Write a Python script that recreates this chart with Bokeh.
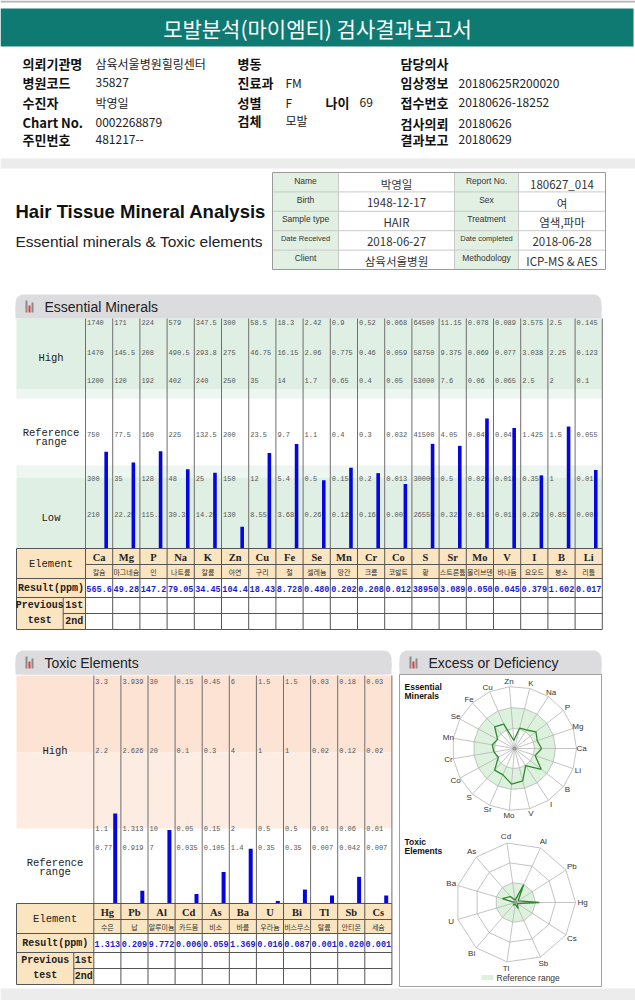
import numpy as np
from bokeh.plotting import figure
from bokeh.models import Range1d, BoxAnnotation
from bokeh.core.properties import value
from bokeh.embed import file_html
from bokeh.resources import INLINE

# ---------------- data ----------------
report_title = "모발분석(마이엠티) 검사결과보고서"
info_left_labels = ["의뢰기관명", "병원코드", "수진자", "Chart No.", "주민번호"]
info_left_values = ["삼육서울병원힐링센터", "35827", "박영일", "0002268879", "481217--"]
info_mid_labels = ["병동", "진료과", "성별", "검체"]
info_mid_values = ["", "FM", "F", "모발"]
age_label, age_value = "나이", "69"
info_right_labels = ["담당의사", "임상정보", "접수번호", "검사의뢰", "결과보고"]
info_right_values = ["", "20180625R200020", "20180626-18252", "20180626", "20180629"]

card_left_labels = ["Name", "Birth", "Sample type", "Date Received", "Client"]
card_left_values = ["박영일", "1948-12-17", "HAIR", "2018-06-27", "삼육서울병원"]
card_right_labels = ["Report No.", "Sex", "Treatment", "Date completed", "Methodology"]
card_right_values = ["180627_014", "여", "염색,파마", "2018-06-28", "ICP-MS & AES"]

ess_elements = ["Ca", "Mg", "P", "Na", "K", "Zn", "Cu", "Fe", "Se", "Mn", "Cr", "Co", "S", "Sr", "Mo", "V", "I", "B", "Li"]
ess_korean = ["칼슘", "마그네슘", "인", "나트륨", "칼륨", "아연", "구리", "철", "셀레늄", "망간", "크롬", "코발트", "황", "스트론튬", "몰리브덴", "바나듐", "요오드", "붕소", "리튬"]
ess_result = [565.6, 49.28, 147.2, 79.05, 34.45, 104.4, 18.43, 8.728, 0.480, 0.202, 0.208, 0.012, 38950, 3.089, 0.050, 0.045, 0.379, 1.602, 0.017]
ess_high3 = [1740, 171, 224, 579, 347.5, 300, 58.5, 18.3, 2.42, 0.9, 0.52, 0.068, 64500, 11.15, 0.078, 0.089, 3.575, 2.5, 0.145]
ess_high2 = [1470, 145.5, 208, 490.5, 293.8, 275, 46.75, 16.15, 2.06, 0.775, 0.46, 0.059, 58750, 9.375, 0.069, 0.077, 3.038, 2.25, 0.123]
ess_high1 = [1200, 120, 192, 402, 240, 250, 35, 14, 1.7, 0.65, 0.4, 0.05, 53000, 7.6, 0.06, 0.065, 2.5, 2, 0.1]
ess_ref_high = [750, 77.5, 160, 225, 132.5, 200, 23.5, 9.7, 1.1, 0.4, 0.3, 0.032, 41500, 4.05, 0.043, 0.041, 1.425, 1.5, 0.055]
ess_ref_low = [300, 35, 128, 48, 25, 150, 12, 5.4, 0.5, 0.15, 0.2, 0.013, 30000, 0.5, 0.025, 0.018, 0.35, 1, 0.01]
ess_low1 = [210, 22.25, 115.2, 30.3, 14.25, 130, 8.55, 3.68, 0.26, 0.125, 0.16, 0.007, 26550, 0.322, 0.018, 0.011, 0.296, 0.85, 0.008]

tox_elements = ["Hg", "Pb", "Al", "Cd", "As", "Ba", "U", "Bi", "Tl", "Sb", "Cs"]
tox_korean = ["수은", "납", "알루미늄", "카드뮴", "비소", "바륨", "우라늄", "비스무스", "탈륨", "안티몬", "세슘"]
tox_result = [1.313, 0.209, 9.772, 0.006, 0.059, 1.369, 0.016, 0.087, 0.001, 0.020, 0.001]
tox_high2 = [3.3, 3.939, 30, 0.15, 0.45, 6, 1.5, 1.5, 0.03, 0.18, 0.03]
tox_high1 = [2.2, 2.626, 20, 0.1, 0.3, 4, 1, 1, 0.02, 0.12, 0.02]
tox_ref_high = [1.1, 1.313, 10, 0.05, 0.15, 2, 0.5, 0.5, 0.01, 0.06, 0.01]
tox_ref_low = [0.77, 0.919, 7, 0.035, 0.105, 1.4, 0.35, 0.35, 0.007, 0.042, 0.007]

# ---------------- styling ----------------
KR = "Noto Sans CJK KR"
SANS = "Liberation Sans"
MONO = "Liberation Mono"
SERIF = "Liberation Serif"
TEAL = "#0e7a72"
GREEN_BAND = "#dfefe4"
GREEN_SOFT = "#edf6f0"
PEACH = "#fde3d4"
PEACH_SOFT = "#fdece2"
TAN = "#fbe5c0"
GRID = "#6f6f6f"
BAR = "#0505e0"
RESULT_BLUE = "#1c1cd0"


def fmt_tick(v):
    return f"{v:g}"


def fmt_result(v):
    if v >= 10000:
        return f"{v:.0f}"
    if v >= 1:
        return f"{v:.4g}"
    return f"{v:.3f}"


p = figure(width=635, height=1000, x_range=Range1d(0, 635), y_range=Range1d(1000, 0),
           output_backend="svg", toolbar_location=None, min_border=0,
           x_axis_type=None, y_axis_type=None)
p.grid.visible = False
p.outline_line_color = None
p.background_fill_color = "white"


def txt(xs, ys, labels, size, font=SANS, color="#222", align="left", baseline="middle", style="normal"):
    p.text(x=list(xs), y=list(ys), text=list(labels), text_font=value(font),
           text_font_size=size, text_color=color, text_align=align,
           text_baseline=baseline, text_font_style=style)


def box(l, r, t, b, fill, line=None, lw=1):
    p.quad(left=[l], right=[r], top=[t], bottom=[b], fill_color=fill,
           line_color=line, line_width=lw)


def segs(x0, y0, x1, y1, color=GRID, w=1):
    p.segment(x0=list(x0), y0=list(y0), x1=list(x1), y1=list(y1), line_color=color, line_width=w)


def tab(l, r, t, b, label):
    p.add_layout(BoxAnnotation(left=l, right=r, top=t, bottom=b, fill_color="#dcdcdf",
                               fill_alpha=1, line_color=None, border_radius=8, level="underlay"))
    box(l, r, (t + b) / 2, b, "#dcdcdf")
    cy = (t + b) / 2
    p.vbar(x=[l + 11, l + 14, l + 17], width=2, bottom=[cy + 6] * 3,
           top=[cy - 6, cy - 1, cy - 4], fill_color=["#8a8a8a", "#e23b3b", "#8a8a8a"], line_color=None)
    txt([l + 29], [cy], [label], "14px", SANS, "#222")


# ---------------- header ----------------
box(0, 635, 0, 2, "#b4b4b4")
box(0, 633, 8, 46, TEAL)
txt([317], [27.5], [report_title], "21px", KR, "white", "center")

left_y = [63, 82, 102, 122, 139]
txt([22] * 5, left_y, info_left_labels, "13px", KR, "#111", style="bold")
txt([95] * 5, left_y, info_left_values, "12px", KR, "#222")
mid_y = [63, 82, 102, 120]
txt([237] * 4, mid_y, info_mid_labels, "13px", KR, "#111", style="bold")
txt([285] * 4, mid_y, info_mid_values, "12px", KR, "#222")
txt([325], [102], [age_label], "13px", KR, "#111", style="bold")
txt([359], [102], [age_value], "12px", KR, "#222")
right_y = [63, 82, 102, 123, 139]
txt([400] * 5, right_y, info_right_labels, "13px", KR, "#111", style="bold")
txt([458] * 5, right_y, info_right_values, "12px", KR, "#222")

# ---------------- title block ----------------
box(0, 635, 158, 168, "#ececec")
txt([15], [211], ["Hair Tissue Mineral Analysis"], "18.5px", SANS, "#111", style="bold")
txt([15], [241], ["Essential minerals & Toxic elements"], "15.5px", SANS, "#222")

cx_ = [272, 338, 454, 518, 605]
ry_ = [172 + i * 19.4 for i in range(6)]
box(cx_[0], cx_[1], ry_[0], ry_[5], "#e2f0e4")
box(cx_[2], cx_[3], ry_[0], ry_[5], "#e2f0e4")
segs([cx_[0]] * 4, ry_[1:5], [cx_[4]] * 4, ry_[1:5], "#c9c9c9")
segs(cx_[1:4], [ry_[0]] * 3, cx_[1:4], [ry_[5]] * 3, "#c9c9c9")
box(cx_[0], cx_[4], ry_[0], ry_[5], None, "#9a9a9a")
lab_y = [r + 8 for r in ry_[:5]]
val_y = [r + 11 for r in ry_[:5]]
lab_sizes = ["8.5px", "8.5px", "8.5px", "7.5px", "8.5px"]
for i in range(5):
    txt([305], [lab_y[i]], [card_left_labels[i]], lab_sizes[i], SANS, "#333", "center")
    txt([486], [lab_y[i]], [card_right_labels[i]], lab_sizes[i], SANS, "#333", "center")
txt([396] * 5, val_y, card_left_values, "11.5px", KR, "#333", "center")
txt([561.5] * 5, val_y, card_right_values, "11.5px", KR, "#333", "center")

# ---------------- essential minerals ----------------
tab(15, 601, 294, 318, "Essential Minerals")
E_X0, E_W, E_L = 85.0, 27.2, 16.0
E_N = len(ess_elements)
E_R = E_X0 + E_N * E_W
box(E_L, E_R, 318, 389, GREEN_BAND)
box(E_L, E_R, 389, 398, GREEN_SOFT)
box(E_L, E_R, 465, 477, GREEN_SOFT)
box(E_L, E_R, 477, 548, GREEN_BAND)
ex = [E_X0 + i * E_W for i in range(E_N + 1)]
segs(ex, [318] * len(ex), ex, [548] * len(ex), GRID)

txt([50.5], [357], ["High"], "10.5px", MONO, "#222", "center")
txt([50.5, 50.5], [432, 441], ["Reference", "range"], "10.5px", MONO, "#222", "center")
txt([50.5], [517], ["Low"], "10.5px", MONO, "#222", "center")

tick_rows = [(322, ess_high3), (352, ess_high2), (380, ess_high1),
             (434, ess_ref_high), (478, ess_ref_low), (514, ess_low1)]
for yy, vals in tick_rows:
    txt([x + 1.5 for x in ex[:-1]], [yy] * E_N, [fmt_tick(v) for v in vals], "7px", MONO, "#555")

ess_knot_y = [548, 521, 476, 434, 395, 352, 322]
ess_top = []
for i in range(E_N):
    kv = [0, ess_low1[i], ess_ref_low[i], ess_ref_high[i], ess_high1[i], ess_high2[i], ess_high3[i]]
    ess_top.append(float(np.interp(ess_result[i], kv, ess_knot_y)))
p.vbar(x=[E_X0 + (i + 0.76) * E_W for i in range(E_N)], width=3.6,
       top=ess_top, bottom=[548] * E_N, fill_color=BAR, line_color=None)


def element_table(x_left, x0, w, n, top, split_x, symbols, korean, results):
    rows = [top, top + 16, top + 30, top + 49, top + 65, top + 81]
    xr = x0 + n * w
    box(x_left, xr, rows[0], rows[2], TAN)
    box(x_left, x0, rows[2], rows[3], TAN)
    box(x_left, x0, rows[3], rows[5], TAN)
    xs = [x0 + i * w for i in range(n + 1)]
    segs([x_left, x0, x_left, x_left, split_x, x_left],
         [rows[0], rows[1], rows[2], rows[3], rows[4], rows[5]],
         [xr] * 6,
         [rows[0], rows[1], rows[2], rows[3], rows[4], rows[5]], "#555")
    segs([x_left] + xs + [split_x], [rows[0]] * (n + 2) + [rows[3]],
         [x_left] + xs + [split_x], [rows[5]] * (n + 2) + [rows[5]], "#555")
    cxs = [x0 + (i + 0.5) * w for i in range(n)]
    txt(cxs, [rows[0] + 8.5] * n, symbols, "10.5px", SERIF, "#222", "center", style="bold")
    txt(cxs, [rows[1] + 7] * n, korean, "7px", KR, "#333", "center")
    txt(cxs, [rows[2] + 10] * n, [fmt_result(v) for v in results], "8.5px", MONO, RESULT_BLUE, "center", style="bold")
    lx = (x_left + x0) / 2
    txt([lx], [rows[0] + 15], ["Element"], "10.5px", MONO, "#222", "center")
    txt([lx], [rows[2] + 10], ["Result(ppm)"], "10px", MONO, "#222", "center", style="bold")
    px_ = (x_left + split_x) / 2
    txt([px_, px_], [rows[3] + 8, rows[4] + 7], ["Previous", "test"], "10px", MONO, "#222", "center", style="bold")
    sx = (split_x + x0) / 2
    txt([sx, sx], [rows[3] + 8, rows[4] + 8], ["1st", "2nd"], "10px", MONO, "#222", "center", style="bold")


element_table(E_L, E_X0, E_W, E_N, 548, 62.7, ess_elements, ess_korean, ess_result)

# ---------------- toxic elements ----------------
tab(15, 391, 650, 674, "Toxic Elements")
T_X0, T_W, T_L = 93.3, 27.1, 16.0
T_N = len(tox_elements)
T_R = T_X0 + T_N * T_W
box(T_L, T_R, 675, 752, PEACH)
box(T_L, T_R, 752, 828, PEACH_SOFT)
tx = [T_X0 + i * T_W for i in range(T_N + 1)]
segs(tx, [675] * len(tx), tx, [903] * len(tx), GRID)
txt([54.5], [750], ["High"], "10.5px", MONO, "#222", "center")
txt([54.5, 54.5], [862, 871], ["Reference", "range"], "10.5px", MONO, "#222", "center")
for yy, vals in [(681, tox_high2), (750, tox_high1), (828, tox_ref_high), (847, tox_ref_low)]:
    txt([x + 1.5 for x in tx[:-1]], [yy] * T_N, [fmt_tick(v) for v in vals], "7px", MONO, "#555")

tox_knot_y = [903, 847, 828, 750, 681]
tox_top = []
for i in range(T_N):
    kv = [0, tox_ref_low[i], tox_ref_high[i], tox_high1[i], tox_high2[i]]
    tox_top.append(float(np.interp(tox_result[i], kv, tox_knot_y)))
p.vbar(x=[T_X0 + (i + 0.79) * T_W for i in range(T_N)], width=4,
       top=tox_top, bottom=[903] * T_N, fill_color=BAR, line_color=None)

element_table(T_L, T_X0, T_W, T_N, 903, 73.3, tox_elements, tox_korean, tox_result)

# ---------------- excess or deficiency ----------------
tab(399, 601, 650, 674, "Excess or Deficiency")
box(399, 601, 674, 986, "white", "#a0a0a0")


def radar(cx, cy, labels, radii_vals, rings, green, label_r, label_size="8px"):
    n = len(labels)
    ang = np.arange(n) * 2 * np.pi / n
    cosa, sina = np.cos(ang), np.sin(ang)

    def poly(r):
        r = np.broadcast_to(np.asarray(r, dtype=float), (n,))
        return list(cx + r * cosa), list(cy - r * sina)

    gx, gy = poly(green[1])
    p.patch(gx, gy, fill_color="#ddf2dd", line_color=None)
    if green[0] > 0:
        wx, wy = poly(green[0])
        p.patch(wx, wy, fill_color="white", line_color=None)
    R = rings[-1]
    ox, oy = poly(R)
    segs([cx] * n, [cy] * n, ox, oy, "#b5b5b5", 0.8)
    for r in rings:
        rx, ry = poly(r)
        p.line(rx + rx[:1], ry + ry[:1], line_color="#b5b5b5", line_width=0.8)
    dx, dy = poly(radii_vals)
    p.line(dx + dx[:1], dy + dy[:1], line_color="#2f8a2f", line_width=1.3)
    p.scatter([cx], [cy], size=4, fill_color="#999", line_color=None)
    lx, ly = poly(label_r)
    txt(lx, ly, labels, label_size, SANS, "#333", "center")


ess_r_knots = [0, 10, 20, 32, 41, 51, 62]
ess_r = []
for i in range(E_N):
    kv = [0, ess_low1[i], ess_ref_low[i], ess_ref_high[i], ess_high1[i], ess_high2[i], ess_high3[i]]
    ess_r.append(float(np.interp(ess_result[i], kv, ess_r_knots)))
txt([404, 404], [686, 695], ["Essential", "Minerals"], "8.5px", SANS, "#111", style="bold")
radar(514, 748, ess_elements, ess_r, [20, 41, 62], (20, 41), 67)

tox_r_knots = [0, 14, 20, 40, 60]
tox_r = []
for i in range(T_N):
    kv = [0, tox_ref_low[i], tox_ref_high[i], tox_high1[i], tox_high2[i]]
    tox_r.append(float(np.interp(tox_result[i], kv, tox_r_knots)))
txt([404, 404], [841, 850], ["Toxic", "Elements"], "8.5px", SANS, "#111", style="bold")
radar(515, 902, tox_elements, tox_r, [20, 40, 60], (0, 20), 67)

box(481, 493, 974.5, 979.5, "#ddf2dd")
txt([496], [977], ["Reference range"], "8.5px", SANS, "#333")

box(0, 635, 988, 1000, "#ececec")

open("out.html", "w").write(file_html(p, INLINE))
